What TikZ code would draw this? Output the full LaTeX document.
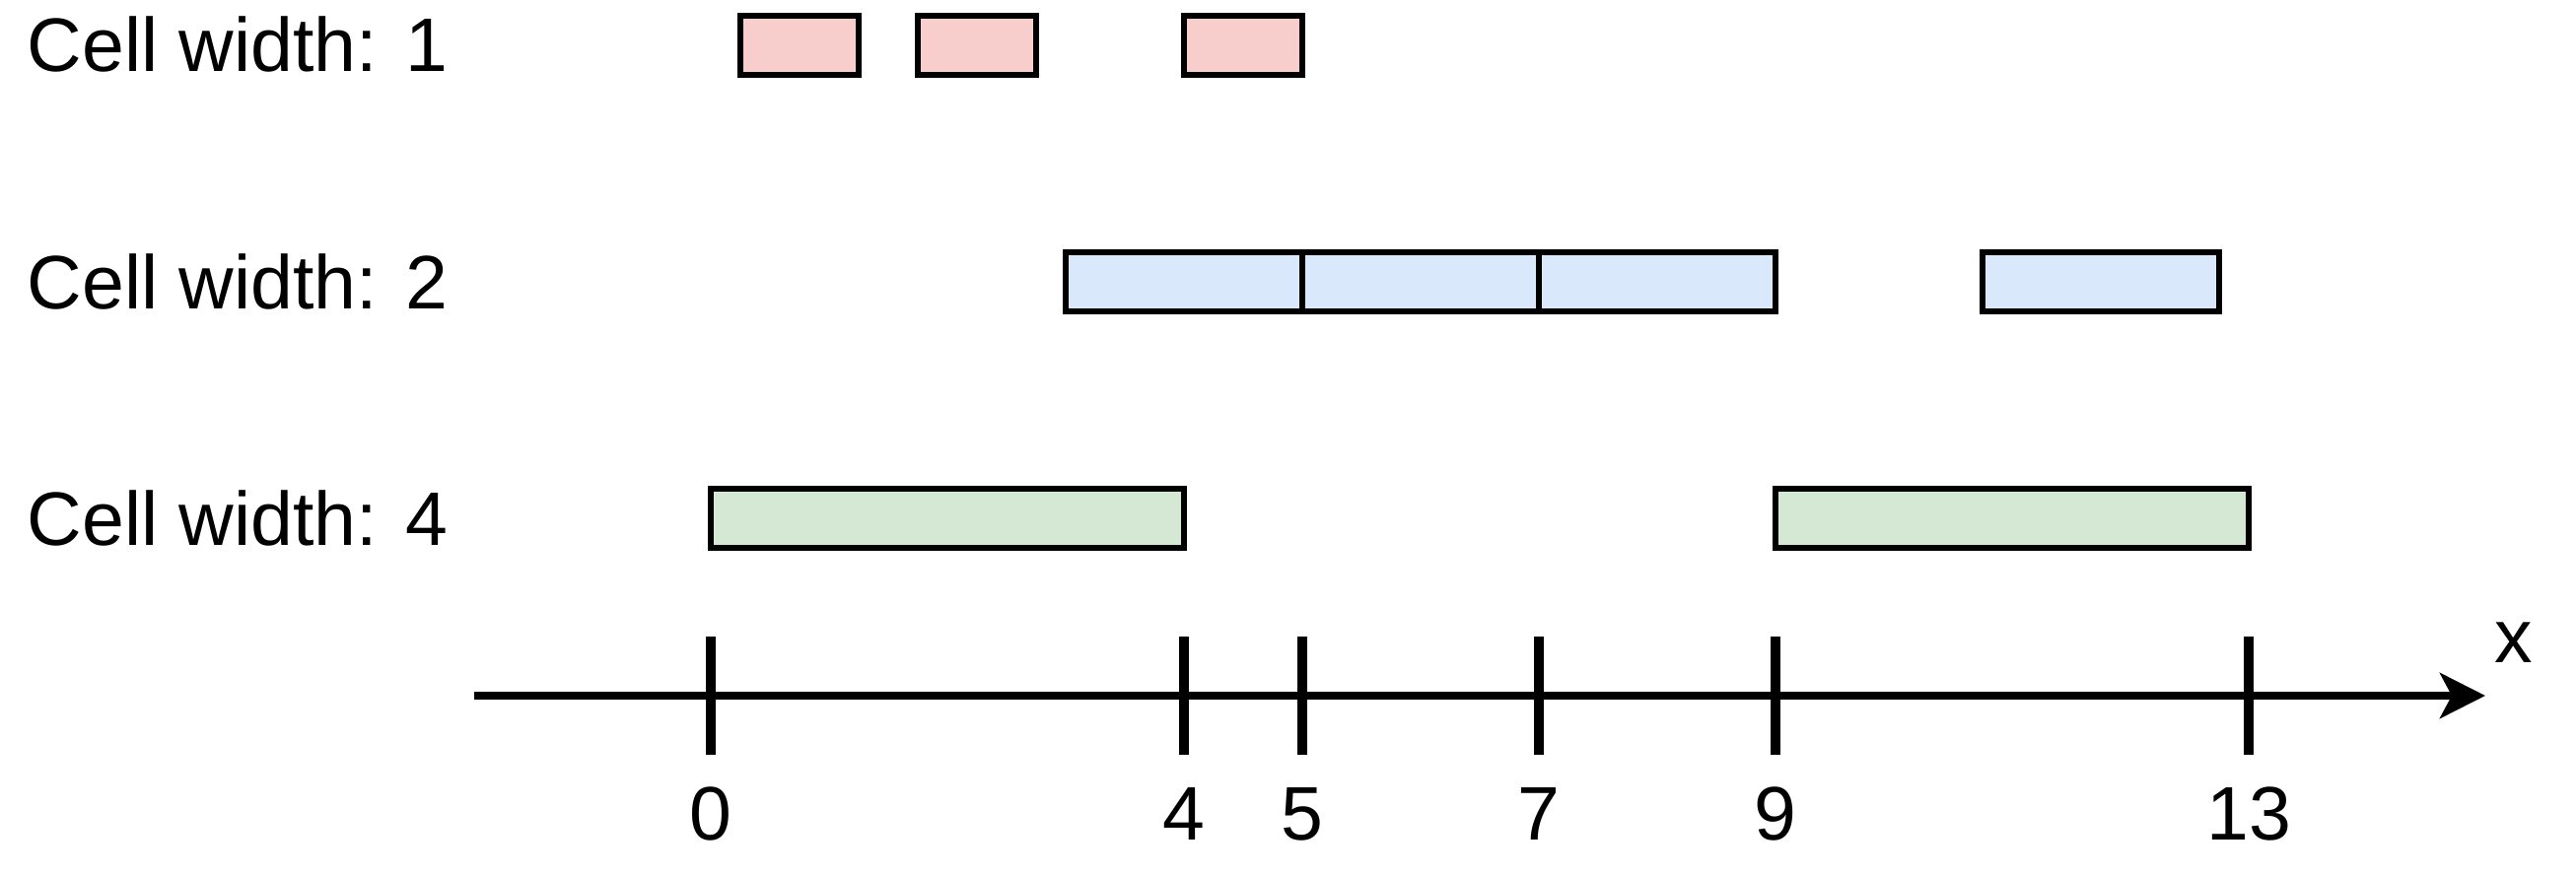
\documentclass[tikz,border=0pt]{standalone}
\usepackage{fontspec}
\setmainfont{Liberation Sans}
\usetikzlibrary{arrows.meta}
\definecolor{cellred}{HTML}{F8CECC}
\definecolor{cellblue}{HTML}{DAE8FC}
\definecolor{cellgreen}{HTML}{D5E8D4}
\begin{document}
\begin{tikzpicture}[x=0.25pt,y=-0.25pt,
  cell/.style={draw=black,line width=1.5pt,minimum height=15pt,inner sep=0pt,outer sep=0pt},
  cone/.style={cell,fill=cellred,minimum width=30pt},
  ctwo/.style={cell,fill=cellblue,minimum width=60pt},
  cfour/.style={cell,fill=cellgreen,minimum width=120pt},
  lbl/.style={font=\fontsize{19.25}{23}\selectfont,inner sep=0pt},
  tickline/.style={line width=2.3pt},
  axisline/.style={line width=2pt,-{Stealth[length=11.5pt,width=11.5pt,inset=3pt]}}]
\useasboundingbox (0,0) rectangle (2613,888);
% row labels
\node[lbl,anchor=base west] (l1) at (27,73) {Cell width: 1};
\node[lbl,anchor=base west] (l2) at (27,313) {Cell width: 2};
\node[lbl,anchor=base west] (l4) at (27,553) {Cell width: 4};
% width 1 cells
\node[cone] (r1) at (811,46) {};
\node[cone] (r2) at (991,46) {};
\node[cone] (r3) at (1261,46) {};
% width 2 cells
\node[ctwo] (b1) at (1201,286) {};
\node[ctwo] (b2) at (1441,286) {};
\node[ctwo] (b3) at (1681,286) {};
\node[ctwo] (b4) at (2131,286) {};
% width 4 cells
\node[cfour] (g1) at (961,526) {};
\node[cfour] (g2) at (2041,526) {};
% axis
\coordinate (astart) at (481,706);
\coordinate (aend) at (2521,706);
\draw[axisline] (astart) -- (aend);
\node[lbl,anchor=base] (xl) at (2550,672) {x};
% ticks
\foreach \v/\px in {0/721,4/1201,5/1321,7/1561,9/1801,13/2281}{
  \coordinate (tt\v) at (\px,646);
  \coordinate (tb\v) at (\px,766);
  \draw[tickline] (tt\v) -- (tb\v);
  \node[lbl,anchor=base] (tl\v) at (\px,852) {\v};
}
\end{tikzpicture}
\end{document}
